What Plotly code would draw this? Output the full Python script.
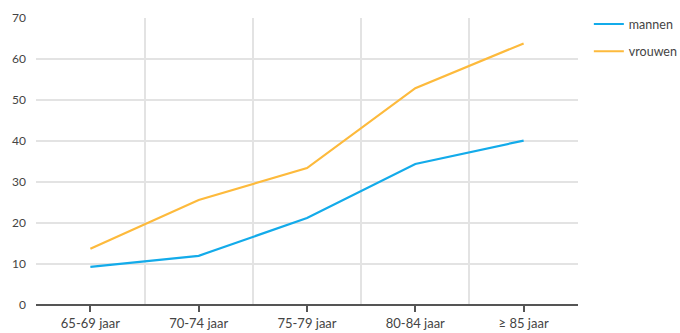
import plotly.graph_objects as go

# Leeftijdsgroepen en waarden per geslacht
categories = ["65-69 jaar", "70-74 jaar", "75-79 jaar", "80-84 jaar", "\u2265 85 jaar"]
mannen = [9.3, 12.0, 21.2, 34.4, 40.1]
vrouwen = [13.7, 25.6, 33.4, 52.9, 63.8]
y_ticks = [0, 10, 20, 30, 40, 50, 60, 70]

x_pos = list(range(len(categories)))

fig = go.Figure()
fig.add_trace(go.Scatter(x=x_pos, y=mannen, mode="lines", name="mannen",
                         legendgroup="m",
                         line=dict(color="#13ABEA", width=2.2)))
fig.add_trace(go.Scatter(x=x_pos, y=vrouwen, mode="lines", name="vrouwen",
                         legendgroup="v",
                         line=dict(color="#FDBA3C", width=2.2)))

font_family = "Lato, Open Sans, sans-serif"

fig.update_layout(
    width=680, height=333,
    margin=dict(l=36, r=102, t=18, b=28, autoexpand=False),
    paper_bgcolor="white", plot_bgcolor="white",
    font=dict(family=font_family, size=13, color="#444444"),
    showlegend=True,
    legend=dict(x=1.02, y=1.03, xanchor="left", yanchor="top",
                font=dict(size=12.5, color="#444444"),
                traceorder="grouped", tracegroupgap=8,
                itemwidth=30, bgcolor="rgba(0,0,0,0)"),
    xaxis=dict(
        range=[-0.502, len(categories) - 0.498],
        tickvals=x_pos, ticktext=categories,
        showgrid=False, zeroline=False,
        ticks="outside", ticklen=6, tickwidth=1.5, tickcolor="#555555",
        showline=False,
        minor=dict(tick0=-0.5, dtick=1, showgrid=True,
                   gridcolor="#E3E3E3", gridwidth=1.5, ticks=""),
        tickfont=dict(size=13, color="#444444"),
        fixedrange=True,
    ),
    yaxis=dict(
        range=[0, 70], tickvals=y_ticks,
        showgrid=True, gridcolor="#E3E3E3", gridwidth=1.5,
        zeroline=True, zerolinecolor="#555555", zerolinewidth=1.5,
        ticks="", ticklabelstandoff=9,
        tickfont=dict(size=12, color="#444444"),
        fixedrange=True,
    ),
)

fig.write_html("out.html")
